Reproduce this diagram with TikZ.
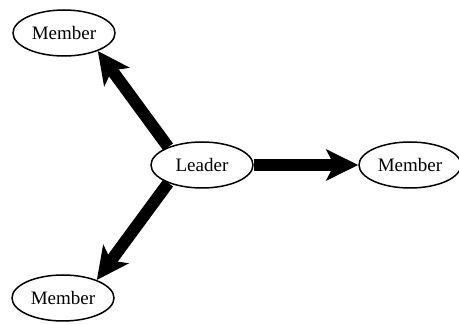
\documentclass[tikz,border=0pt]{standalone}
\usepackage{fontspec}
\setmainfont{Liberation Serif}
\usetikzlibrary{arrows.meta, shapes.geometric}

\begin{document}
\begin{tikzpicture}[
  x=1pt, y=1pt,
  role/.style={ellipse, draw, line width=1.5pt, minimum width=102pt, minimum height=46pt, inner sep=0pt, font=\fontsize{19}{22}\selectfont},
  arrow/.style={-{Stealth[length=32pt, width=31pt, inset=8pt]}, line width=12pt}
]
  \useasboundingbox (0,0) rectangle (459,324);

  \node[role] (leader) at (202,159) {Leader};
  \node[role] (top) at (64,291) {Member};
  \node[role] (right) at (410,159) {Member};
  \node[role] (bottom) at (63,26) {Member};

  \draw[arrow] (leader.152) -- (top.-28);
  \draw[arrow] (leader.east) -- (right.west);
  \draw[arrow] (leader.208) -- (bottom.28);
\end{tikzpicture}
\end{document}
